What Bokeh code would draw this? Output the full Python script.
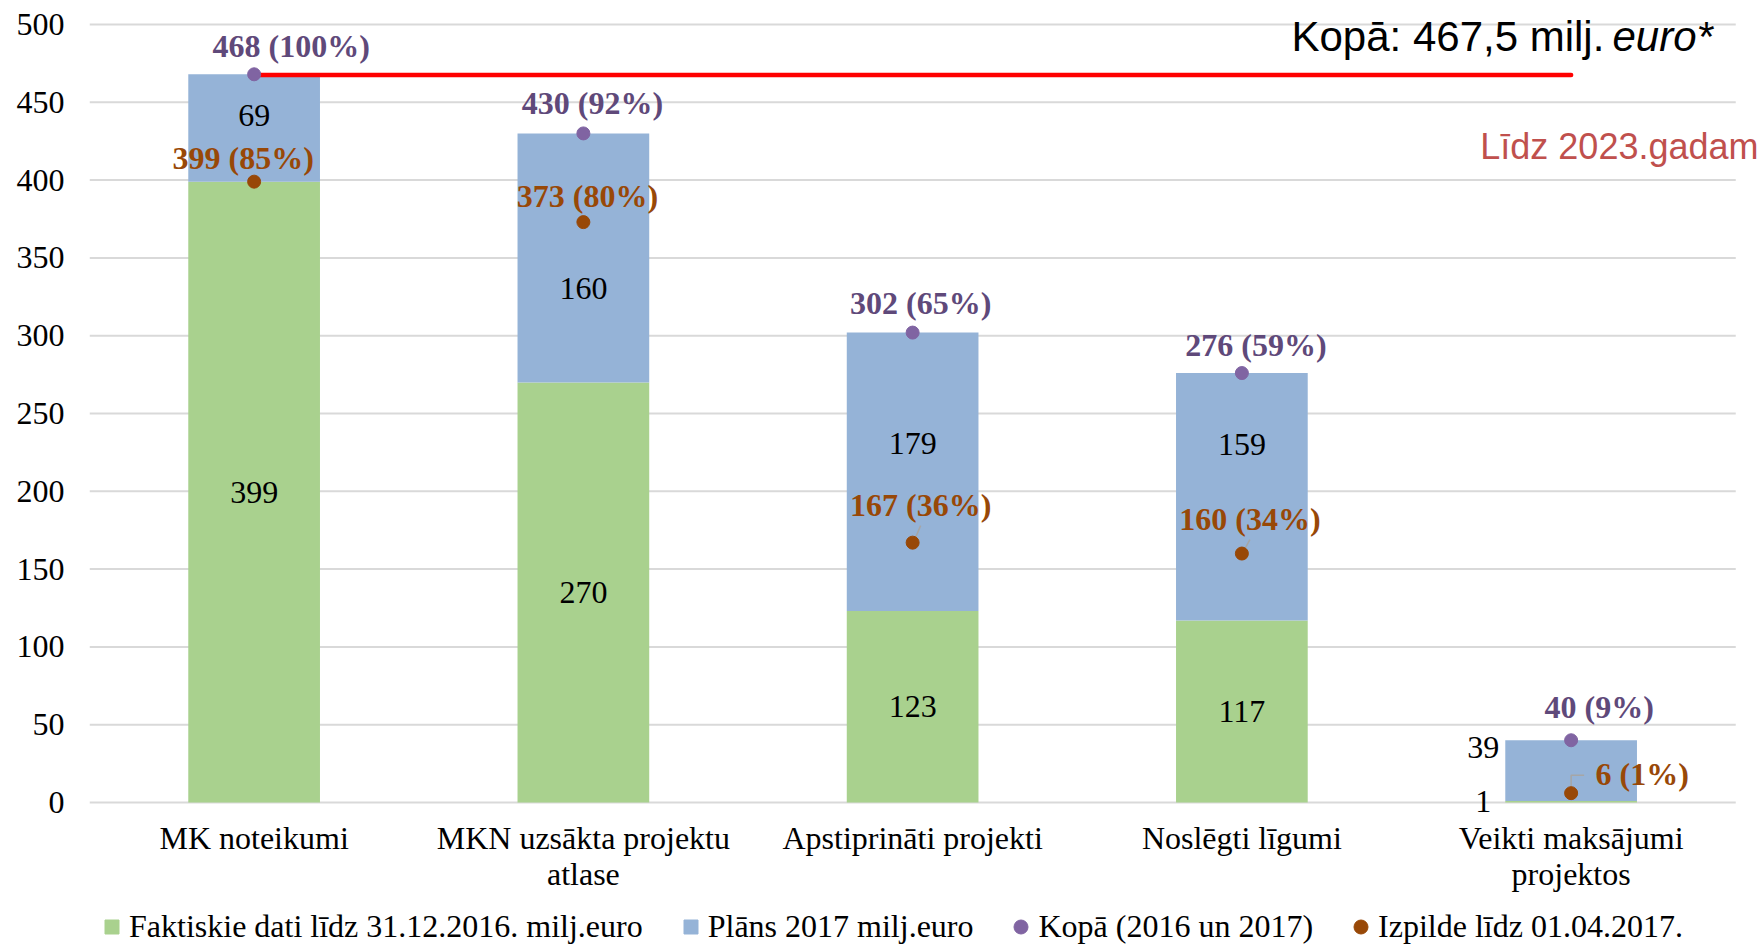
from bokeh.plotting import figure
from bokeh.models import (ColumnDataSource, LabelSet, Label, Legend, LegendItem,
                          FixedTicker, Range1d)
from bokeh.embed import file_html
from bokeh.resources import INLINE

# ---------------- data ----------------
categories = ["MK noteikumi", "MKN uzsākta projektu atlase", "Apstiprināti projekti",
              "Noslēgti līgumi", "Veikti maksājumi projektos"]
category_labels = ["MK noteikumi", "MKN uzsākta projektu\natlase", "Apstiprināti projekti",
                   "Noslēgti līgumi", "Veikti maksājumi\nprojektos"]
actual_2016 = [399, 270, 123, 117, 1]
plan_2017 = [69, 160, 179, 159, 39]
total = [468, 430, 302, 276, 40]
total_pct = [100, 92, 65, 59, 9]
executed = [399, 373, 167, 160, 6]
executed_pct = [85, 80, 36, 34, 1]
target_total = 467.5
y_ticks = [0, 50, 100, 150, 200, 250, 300, 350, 400, 450, 500]

legend_labels = ["Faktiskie dati līdz 31.12.2016. milj.euro", "Plāns 2017 milj.euro",
                 "Kopā (2016 un 2017)", "Izpilde līdz 01.04.2017."]
note_total = "Kopā: " + f"{target_total:.1f}".replace(".", ",") + " milj."
note_unit = "euro*"
note_until = "Līdz 2023.gadam"

# ---------------- layout / style ----------------
W, H = 1764, 945
LEFT = 89                 # frame left edge (px)
FW, FH = W - LEFT, H      # frame covers the rest of the canvas
SLOT = 329.25             # px per category
Y0_PX, YTOP_PX = 802, 24  # pixel rows of value 0 and of the top tick
n = len(categories)
U = (Y0_PX - YTOP_PX) / (y_ticks[-1] - y_ticks[0])   # px per unit
px_x = 1 / SLOT
px_y = 1 / U

SERIF = "Liberation Serif"
SANS = "Liberation Sans"
FS = "32px"
GREEN = "#a9d18e"
BLUE = "#95b3d7"
PURPLE = "#8064a2"
PURPLE_TXT = "#5f497a"
BROWN = "#984807"
RED = "#ff0000"
GRID = "#d9d9d9"
LEADER = "#a6a6a6"

# label offsets in pixels (x right, y up)
total_dx = [37, 9, 8, 14, 28]
total_dy = [28, 30, 30, 28, 33]
exec_dx = [-11, 4, 8, 8, 71]
exec_dy = [24, 26, 38, 35, 19]
green_dx = [0, 0, 0, 0, -88]
green_dy = [0, 0, 0, 0, 0]
blue_dx = [0, 0, 0, 0, -88]
blue_dy = [12, -31, 28, 52, 23]
cat_line_dy = [-17, -53]
leader_paths = {2: [(2, 3), (8, 17)], 3: [(2, 3), (8, 14)], 4: [(0, 3), (0, 18), (13, 18)]}

idx = list(range(n))
stack_top = [a + b for a, b in zip(actual_2016, plan_2017)]

p = figure(width=W, height=H,
           x_range=Range1d(-0.5, -0.5 + FW / SLOT),
           y_range=Range1d(y_ticks[0] - (H - Y0_PX) / U, y_ticks[-1] + YTOP_PX / U),
           x_axis_location=None,
           output_backend="svg", toolbar_location=None,
           min_border_left=LEFT, min_border_right=0,
           min_border_top=0, min_border_bottom=0)
p.outline_line_color = None
p.background_fill_color = "white"
p.xgrid.visible = False
p.ygrid.visible = False

# grid lines spanning the category area only
p.segment(x0=[-0.5] * len(y_ticks), x1=[n - 0.5] * len(y_ticks), y0=y_ticks, y1=y_ticks,
          line_color=GRID, line_width=2)

src = ColumnDataSource(dict(x=idx, actual=actual_2016, top=stack_top))
r_green = p.vbar(x="x", bottom=0, top="actual", width=0.4, source=src,
                 fill_color=GREEN, line_color=None)
r_blue = p.vbar(x="x", bottom="actual", top="top", width=0.4, source=src,
                fill_color=BLUE, line_color=None)

# leaders
lx, ly = [], []
for i, path in leader_paths.items():
    lx.append([idx[i] + dx * px_x for dx, dy in path])
    ly.append([executed[i] + dy * px_y for dx, dy in path])
p.multi_line(xs=lx, ys=ly, line_color=LEADER, line_width=1.5)

p.line(x=[idx[0], idx[-1]], y=[target_total, target_total], line_color=RED,
       line_width=4.5, line_cap="round")

r_tot = p.scatter(x=idx, y=total, size=13, marker="circle", fill_color=PURPLE, line_color=PURPLE)
r_exe = p.scatter(x=idx, y=executed, size=13, marker="circle", fill_color=BROWN, line_color=BROWN)

# zero-size proxies so the legend shows squares for the bar series
pr_green = p.scatter(x=idx, y=actual_2016, size=0, marker="square", fill_color=GREEN, line_color=GREEN)
pr_blue = p.scatter(x=idx, y=stack_top, size=0, marker="square", fill_color=BLUE, line_color=BLUE)


def add_labels(xs, ys, texts, dxs, dys, color, style, baseline="middle"):
    s = ColumnDataSource(dict(x=xs, y=ys, t=texts, dx=dxs, dy=dys))
    ls = LabelSet(x="x", y="y", text="t", x_offset="dx", y_offset="dy", source=s,
                  text_align="center", text_baseline=baseline, text_font=SERIF,
                  text_font_size=FS, text_color=color, text_font_style=style)
    p.add_layout(ls)


add_labels(idx, [a / 2 for a in actual_2016], [str(a) for a in actual_2016],
           green_dx, green_dy, "black", "normal")
add_labels(idx, [a + b / 2 for a, b in zip(actual_2016, plan_2017)], [str(b) for b in plan_2017],
           blue_dx, blue_dy, "black", "normal")
add_labels(idx, total, [f"{t} ({q}%)" for t, q in zip(total, total_pct)],
           total_dx, total_dy, PURPLE_TXT, "bold")
add_labels(idx, executed, [f"{t} ({q}%)" for t, q in zip(executed, executed_pct)],
           exec_dx, exec_dy, BROWN, "bold")

# category labels under the bars, one centred LabelSet per text line
cat_lines = [lab.split("\n") for lab in category_labels]
for k, dy in enumerate(cat_line_dy):
    sel = [i for i in idx if len(cat_lines[i]) > k]
    add_labels(sel, [y_ticks[0]] * len(sel), [cat_lines[i][k] for i in sel],
               [0] * len(sel), [dy] * len(sel), "black", "normal", baseline="top")

# notes (screen units relative to frame: x from left, y from bottom)
p.add_layout(Label(x=1291 - LEFT, y=H - 36, x_units="screen", y_units="screen", text=note_total,
                   text_font=SANS, text_font_size="42px", text_color="black",
                   text_align="left", text_baseline="middle"))
p.add_layout(Label(x=1612 - LEFT, y=H - 36, x_units="screen", y_units="screen", text=note_unit,
                   text_font=SANS, text_font_size="42px", text_color="black",
                   text_font_style="italic", text_align="left", text_baseline="middle"))
p.add_layout(Label(x=1758 - LEFT, y=H - 146, x_units="screen", y_units="screen", text=note_until,
                   text_font=SANS, text_font_size="36px", text_color="#c0504d",
                   text_align="right", text_baseline="middle"))

# y axis
p.yaxis.ticker = FixedTicker(ticks=y_ticks)
p.yaxis.axis_line_color = None
p.yaxis.major_tick_line_color = None
p.yaxis.minor_tick_line_color = None
p.yaxis.major_tick_out = 0
p.yaxis.major_tick_in = 0
p.yaxis.minor_tick_out = 0
p.yaxis.major_label_text_font = SERIF
p.yaxis.major_label_text_font_size = FS
p.yaxis.major_label_text_color = "black"
p.yaxis.major_label_standoff = 25

legend = Legend(items=[LegendItem(label=legend_labels[0], renderers=[pr_green]),
                       LegendItem(label=legend_labels[1], renderers=[pr_blue]),
                       LegendItem(label=legend_labels[2], renderers=[r_tot]),
                       LegendItem(label=legend_labels[3], renderers=[r_exe])],
                orientation="horizontal", location=(94 - LEFT, 0), glyph_width=35, glyph_height=35,
                label_standoff=0, spacing=30, padding=0, margin=0,
                border_line_color=None, background_fill_alpha=0,
                label_text_font=SERIF, label_text_font_size=FS, label_text_color="black")
p.add_layout(legend, "center")

open("out.html", "w").write(file_html(p, INLINE))
